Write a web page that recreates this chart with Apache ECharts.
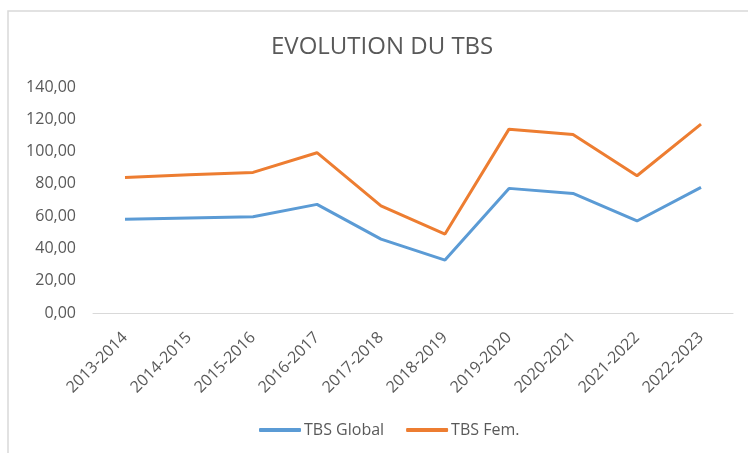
<!DOCTYPE html>
<html>
<head>
<meta charset="utf-8">
<script src="https://cdn.jsdelivr.net/npm/echarts@6/dist/echarts.min.js"></script>
<style>
  html, body { margin: 0; padding: 0; background: #fff; }
  #main { width: 748px; height: 453px; }
</style>
</head>
<body>
<div id="main"></div>
<script>
var years = ['2013-2014', '2014-2015', '2015-2016', '2016-2017', '2017-2018',
             '2018-2019', '2019-2020', '2020-2021', '2021-2022', '2022-2023'];
var tbsGlobal = [58.0, 58.8, 59.6, 67.3, 45.8, 32.8, 77.2, 74.1, 57.0, 77.8];
var tbsFem = [84.0, 85.6, 87.1, 99.3, 66.4, 48.9, 113.9, 110.6, 85.0, 117.0];

var chartDom = document.getElementById('main');
var myChart = echarts.init(chartDom, null, { renderer: 'canvas' });
var option;

var txt = '#595959';
var font = 'Open Sans';

option = {
    animation: false,
    title: {
        text: 'EVOLUTION DU TBS',
        left: 266,
        top: 30,
        textStyle: { fontFamily: font, fontSize: 24, fontWeight: 'normal', color: txt }
    },
    // chart area border like the spreadsheet frame
    graphic: [{
        type: 'rect',
        shape: { x: 8, y: 11, width: 760, height: 460 },
        style: { fill: 'none', stroke: '#D9D9D9', lineWidth: 1.5 },
        silent: true
    }],
    legend: {
        bottom: 10,
        left: 254,
        itemWidth: 42,
        itemHeight: 4,
        itemGap: 22,
        icon: 'roundRect',
        textStyle: { fontFamily: font, fontSize: 16, color: txt, padding: [0, 0, 0, -2] },
        data: ['TBS Global', 'TBS Fem.']
    },
    grid: { left: 93, right: 15, top: 87, bottom: 140 },
    xAxis: {
        type: 'category',
        data: years,
        boundaryGap: true,
        axisLine: { lineStyle: { color: '#D9D9D9', width: 1 } },
        axisTick: { show: false },
        axisLabel: { rotate: 45, color: txt, fontFamily: font, fontSize: 16, margin: 22 }
    },
    yAxis: {
        type: 'value',
        min: 0,
        max: 140,
        interval: 20,
        axisLine: { show: false },
        axisTick: { show: false },
        splitLine: { show: false },
        axisLabel: {
            color: txt, fontFamily: font, fontSize: 16, margin: 17,
            formatter: function (v) { return v.toFixed(2).replace('.', ','); }
        }
    },
    series: [
        {
            name: 'TBS Global',
            type: 'line',
            data: tbsGlobal,
            symbol: 'none',
            lineStyle: { color: '#5B9BD5', width: 3 },
            itemStyle: { color: '#5B9BD5' }
        },
        {
            name: 'TBS Fem.',
            type: 'line',
            data: tbsFem,
            symbol: 'none',
            lineStyle: { color: '#ED7D31', width: 3 },
            itemStyle: { color: '#ED7D31' }
        }
    ]
};

option && myChart.setOption(option);
</script>
</body>
</html>
